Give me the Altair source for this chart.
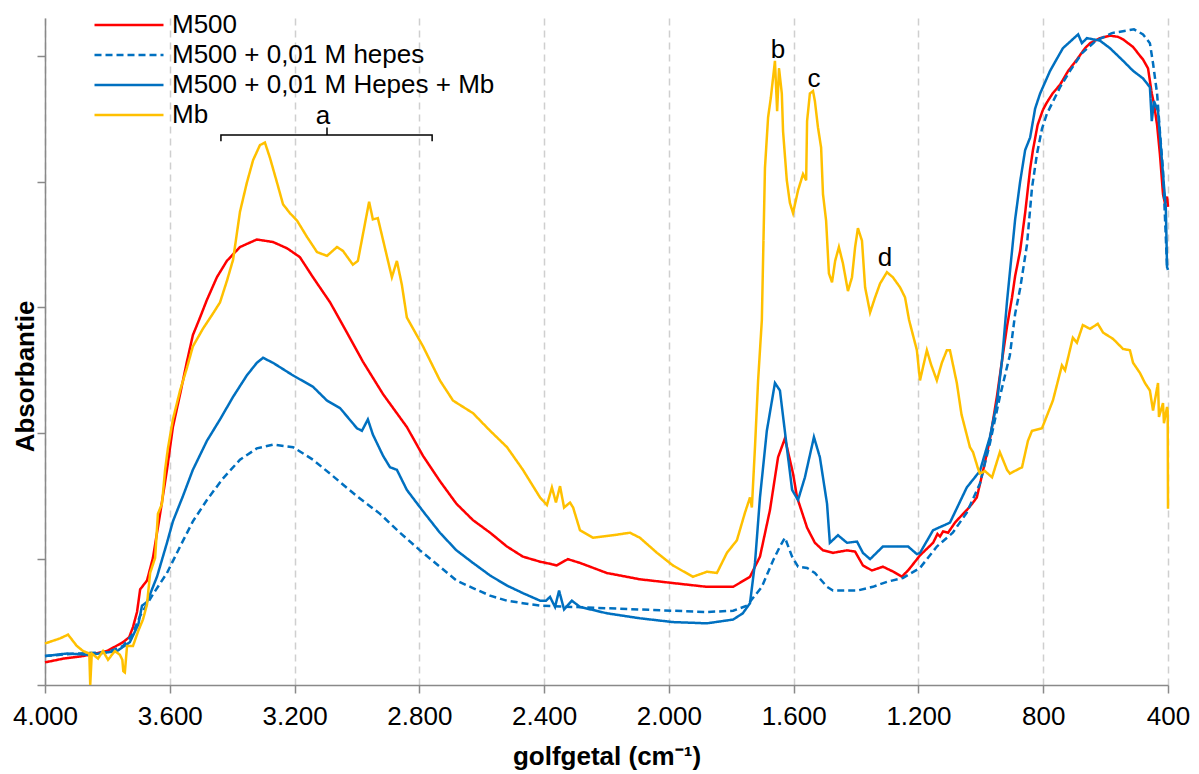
import altair as alt
import pandas as pd

# ---------------- data ----------------
SERIES = ["M500", "M500 + 0,01 M hepes", "M500 + 0,01 M Hepes + Mb", "Mb"]
COLORS = ["#FF0000", "#0070C0", "#0070C0", "#FFC000"]
DASHES = [[1, 0], [7, 4], [1, 0], [1, 0]]

m500_w = [4000, 3940, 3878, 3801, 3750, 3730, 3718, 3705, 3695, 3673, 3654, 3631, 3609, 3590,
          3567, 3545, 3526, 3503, 3481, 3449, 3417, 3375, 3321, 3269, 3224, 3183, 3141, 3086,
          3032, 2981, 2916, 2840, 2788, 2734, 2681, 2628, 2573, 2519, 2468, 2413, 2375, 2360,
          2324, 2285, 2199, 2093, 1987, 1878, 1794, 1740, 1708, 1676, 1650, 1628, 1602,
          1589, 1557, 1532, 1506, 1474, 1429, 1403, 1378, 1349, 1314, 1280, 1253, 1230, 1195,
          1153, 1139, 1131, 1121, 1105, 1083, 1057, 1045, 1025, 1013, 993, 971,
          961, 948, 932, 916, 900, 890, 874, 858, 842, 833, 818, 801, 788, 770, 746, 720,
          692, 666, 650, 618, 586, 560, 544, 512, 490, 480, 464, 458, 452, 445, 435, 426, 416,
          410, 403, 400]
m500_a = [0.18, 0.21, 0.23, 0.27, 0.34, 0.38, 0.46, 0.58, 0.76, 0.83, 1.01, 1.36, 1.71, 2.05,
          2.31, 2.57, 2.78, 2.92, 3.06, 3.24, 3.37, 3.48, 3.54, 3.52, 3.47, 3.40, 3.24, 3.04,
          2.80, 2.57, 2.31, 2.05, 1.82, 1.62, 1.44, 1.31, 1.21, 1.10, 1.02, 0.98, 0.96, 0.95,
          1.00, 0.97, 0.89, 0.84, 0.81, 0.78, 0.78, 0.86, 1.02, 1.39, 1.81, 1.96, 1.68,
          1.49, 1.25, 1.13, 1.07, 1.05, 1.07, 1.06, 0.95, 0.91, 0.94, 0.90, 0.86, 0.92, 1.03,
          1.13, 1.20, 1.18, 1.22, 1.21, 1.29, 1.36, 1.39, 1.45, 1.49, 1.70, 1.95,
          2.10, 2.30, 2.58, 2.85, 3.08, 3.25, 3.45, 3.75, 4.10, 4.25, 4.45, 4.57, 4.63,
          4.70, 4.77, 4.88, 4.97, 5.06, 5.10, 5.14, 5.16, 5.15, 5.13, 5.07, 5.00, 4.97, 4.90,
          4.80, 4.70, 4.62, 4.45, 4.22, 3.90, 3.83, 3.88, 3.80]

hepes_w = [4000, 3900, 3800, 3750, 3720, 3695, 3654, 3609, 3567, 3526, 3481, 3430, 3375, 3321,
           3269, 3205, 3141, 3077, 3000, 2926, 2862, 2798, 2734, 2681, 2628, 2573, 2519, 2468,
           2413, 2307, 2199, 2093, 1987, 1878, 1794, 1750, 1702, 1666, 1644, 1628, 1605, 1586,
           1557, 1532, 1493, 1474, 1397, 1346, 1301, 1250, 1195, 1141, 1090, 1045, 1003,
           971, 939, 907, 890, 874, 852, 836, 820, 804, 788, 746, 714, 676, 631, 580,
           509, 480, 458, 448, 435, 426, 416, 403, 400]
hepes_a = [0.23, 0.25, 0.26, 0.31, 0.40, 0.55, 0.72, 0.89, 1.10, 1.30, 1.47, 1.64, 1.79, 1.88,
           1.91, 1.89, 1.79, 1.66, 1.50, 1.36, 1.21, 1.07, 0.94, 0.83, 0.77, 0.71, 0.67, 0.65,
           0.63, 0.62, 0.61, 0.60, 0.59, 0.58, 0.59, 0.63, 0.78, 0.99, 1.10, 1.17, 1.02, 0.94,
           0.93, 0.89, 0.78, 0.75, 0.75, 0.78, 0.82, 0.85, 0.93, 1.10, 1.21, 1.37, 1.60,
           1.92, 2.29, 2.62, 2.95, 3.15, 3.50, 3.95, 4.22, 4.42, 4.54, 4.75, 4.88,
           5.02, 5.12, 5.18, 5.21, 5.17, 5.10, 4.94, 4.70, 4.40, 4.09, 3.32, 3.30]

hepesmb_w = [4000, 3930, 3856, 3769, 3728, 3701, 3689, 3673, 3641, 3609, 3590, 3558, 3526, 3481,
             3439, 3397, 3353, 3321, 3301, 3269, 3205, 3141, 3096, 3054, 3000, 2984, 2965, 2949,
             2916, 2894, 2872, 2840, 2788, 2734, 2681, 2628, 2573, 2519, 2468, 2413, 2394, 2381,
             2365, 2352, 2336, 2311, 2285, 2199, 2093, 1987, 1878, 1794, 1763, 1740, 1724, 1708,
             1686, 1660, 1644, 1622, 1605, 1586, 1564, 1535, 1516, 1493, 1484, 1458, 1429, 1397,
             1378, 1355, 1314, 1259, 1233, 1205, 1195, 1153, 1099, 1045, 1003, 971, 948, 932,
             916, 900, 890, 874, 858, 842, 826, 810, 778, 737, 688, 676, 660, 618, 586, 544,
             512, 480, 458, 452, 445, 432, 416, 407, 403, 400]
hepesmb_a = [0.23, 0.25, 0.24, 0.27, 0.34, 0.48, 0.63, 0.66, 0.86, 1.13, 1.30, 1.50, 1.71, 1.94,
             2.11, 2.29, 2.46, 2.56, 2.60, 2.56, 2.46, 2.37, 2.26, 2.20, 2.04, 2.02, 2.11, 1.99,
             1.82, 1.73, 1.71, 1.55, 1.38, 1.21, 1.07, 0.97, 0.87, 0.79, 0.73, 0.67, 0.67, 0.70,
             0.62, 0.75, 0.60, 0.67, 0.62, 0.57, 0.53, 0.50, 0.49, 0.52, 0.57, 0.65, 0.97, 1.49,
             2.02, 2.40, 2.34, 1.89, 1.55, 1.47, 1.65, 1.97, 1.81, 1.44, 1.13, 1.19, 1.13, 1.14,
             1.05, 1.00, 1.10, 1.10, 1.10, 1.04, 1.05, 1.23, 1.29, 1.57, 1.70, 1.97, 2.25, 2.58,
             3.05, 3.45, 3.70, 4.00, 4.25, 4.35, 4.58, 4.70, 4.88, 5.06, 5.17, 5.10, 5.14,
             5.12, 5.06, 4.96, 4.88, 4.82, 4.75, 4.48, 4.64, 4.56, 4.06, 3.79, 3.32, 3.30]

mb_w = [4000, 3952, 3926, 3898, 3878, 3858, 3855, 3850, 3830, 3814, 3798, 3776, 3760, 3752, 3749,
        3744, 3737, 3718, 3701, 3686, 3673, 3663, 3647, 3638, 3625, 3615, 3606, 3590, 3567, 3545,
        3526, 3494, 3462, 3439, 3417, 3397, 3375, 3353, 3333, 3311, 3295, 3279, 3256, 3237, 3215,
        3192, 3160, 3128, 3096, 3064, 3045, 3013, 2997, 2974, 2961, 2949, 2933, 2910, 2888, 2872,
        2856, 2840, 2788, 2734, 2692, 2628, 2573, 2519, 2468, 2413, 2391, 2375, 2362, 2349, 2336,
        2317, 2307, 2285, 2243, 2179, 2125, 2093, 2038, 1987, 1923, 1878, 1846, 1814, 1782, 1756,
        1740, 1734, 1724, 1714, 1702, 1692, 1682, 1673, 1660, 1653, 1647, 1638, 1634, 1622, 1612,
        1602, 1586, 1570, 1560, 1557, 1548, 1538, 1532, 1522, 1512, 1506, 1496, 1487, 1477, 1467,
        1455, 1442, 1426, 1413, 1403, 1394, 1381, 1371, 1355, 1339, 1323, 1301, 1282, 1259, 1243,
        1230, 1205, 1195, 1173, 1160, 1141, 1125, 1109, 1099, 1077, 1062, 1035, 1025, 1009, 1003,
        987, 964, 939, 916, 907, 884, 868, 849, 836, 804, 769, 740, 730, 705, 692, 673, 650, 625,
        608, 576, 544, 522, 512, 490, 474, 458, 448, 432, 429, 416, 413, 403, 401, 400]
mb_a = [0.33, 0.37, 0.40, 0.31, 0.27, 0.25, 0.00, 0.25, 0.21, 0.27, 0.20, 0.27, 0.24, 0.20, 0.11,
        0.10, 0.31, 0.31, 0.43, 0.52, 0.64, 0.89, 1.01, 1.36, 1.44, 1.71, 1.88, 2.11, 2.34, 2.52,
        2.69, 2.83, 2.95, 3.04, 3.21, 3.38, 3.76, 3.99, 4.17, 4.29, 4.31, 4.19, 3.99, 3.82, 3.75,
        3.69, 3.56, 3.44, 3.41, 3.48, 3.45, 3.34, 3.37, 3.67, 3.84, 3.70, 3.71, 3.47, 3.24, 3.37,
        3.18, 2.92, 2.69, 2.42, 2.26, 2.16, 2.02, 1.89, 1.71, 1.49, 1.43, 1.57, 1.45, 1.58, 1.41,
        1.45, 1.41, 1.23, 1.17, 1.19, 1.21, 1.17, 1.05, 0.95, 0.86, 0.90, 0.89, 1.05, 1.15, 1.37,
        1.49, 1.41, 1.89, 2.42, 2.90, 4.11, 4.51, 4.67, 4.96, 4.56, 4.90, 4.70, 4.40, 4.01, 3.83,
        3.75, 3.93, 4.06, 4.01, 4.48, 4.70, 4.72, 4.64, 4.43, 4.27, 3.90, 3.69, 3.27, 3.20, 3.37,
        3.48, 3.35, 3.13, 3.24, 3.48, 3.63, 3.53, 3.16, 2.96, 3.08, 3.19, 3.28, 3.24, 3.16, 3.08,
        2.90, 2.66, 2.42, 2.66, 2.55, 2.42, 2.56, 2.66, 2.66, 2.40, 2.15, 1.89, 1.85, 1.72, 1.68,
        1.70, 1.65, 1.85, 1.71, 1.68, 1.71, 1.73, 1.94, 2.02, 2.04, 2.26, 2.54, 2.50, 2.76, 2.72,
        2.86, 2.83, 2.87, 2.80, 2.75, 2.67, 2.66, 2.56, 2.48, 2.40, 2.34, 2.18, 2.40, 2.13, 2.24,
        2.08, 2.21, 2.18, 1.40]

x_ticks = [4000, 3600, 3200, 2800, 2400, 2000, 1600, 1200, 800, 400]
y_ticks = [0, 1, 2, 3, 4, 5]

ann_text = ["a", "b", "c", "d"]
ann_w = [3109, 1650, 1535, 1307]
ann_a = [4.46, 4.98, 4.75, 3.33]

bracket_w = [3436, 3436, 2759, 2759]
bracket_a = [4.32, 4.37, 4.37, 4.32]
bracket_mid_w = [3096]
bracket_mid_a = [4.37]
bracket_mid_a2 = [4.43]

# ---------------- build tables ----------------
rows = []
for name, ws, As in zip(SERIES, [m500_w, hepes_w, hepesmb_w, mb_w], [m500_a, hepes_a, hepesmb_a, mb_a]):
    for w, a in zip(ws, As):
        rows.append({"series": name, "w": w, "a": a})
df = pd.DataFrame(rows)

ann_df = pd.DataFrame({"t": ann_text, "w": ann_w, "a": ann_a})
br_df = pd.DataFrame({"w": bracket_w, "a": bracket_a, "i": list(range(len(bracket_w)))})
brm_df = pd.DataFrame({"w": bracket_mid_w, "a": bracket_mid_a, "a2": bracket_mid_a2})

FONT = "Liberation Sans"
FS = 26
AX = "#898989"

x_enc = alt.X(
    "w:Q",
    scale=alt.Scale(domain=[400, 4000], reverse=True, nice=False, zero=False),
    axis=alt.Axis(
        values=x_ticks,
        labelExpr="replace(format(datum.value, ','), ',', '.')",
        labelFlush=False,
        labelFont=FONT, labelFontSize=FS, labelColor="black", labelPadding=10,
        grid=True, gridColor="#CFCFCF", gridDash=[7, 5], gridWidth=1.5,
        domainColor=AX, domainWidth=1.5, tickColor=AX, tickWidth=1.5, tickSize=8,
        title="golfgetal (cm⁻¹)", titleFont=FONT, titleFontSize=FS, titleFontWeight="bold",
        titleColor="black", titleY=79, titleBaseline="alphabetic",
    ),
)
y_enc = alt.Y(
    "a:Q",
    scale=alt.Scale(domain=[0, 5.3], nice=False),
    axis=alt.Axis(
        values=y_ticks, labels=False, grid=False,
        domainColor=AX, domainWidth=1.5, tickColor=AX, tickWidth=1.5, tickSize=8,
        title="Absorbantie", titleFont=FONT, titleFontSize=FS, titleFontWeight="bold",
        titleColor="black", titleAngle=270, titleX=-12, titleY=358,
        titleBaseline="alphabetic", titleAlign="center",
    ),
)

legend_kw = dict(
    title=None, orient="none", legendX=71, legendY=-6,
    symbolType="M-3,0H3", symbolSize=529, symbolStrokeWidth=2.5,
    labelFont=FONT, labelFontSize=FS, labelColor="black", labelOffset=30,
    rowPadding=4, padding=0, labelLimit=600,
)

lines = alt.Chart(df).mark_line(strokeWidth=2.5).encode(
    x=x_enc,
    y=y_enc,
    color=alt.Color("series:N", scale=alt.Scale(domain=SERIES, range=COLORS),
                    legend=alt.Legend(**legend_kw)),
    strokeDash=alt.StrokeDash("series:N", scale=alt.Scale(domain=SERIES, range=DASHES),
                              legend=alt.Legend(**legend_kw)),
)

bracket = alt.Chart(br_df).mark_line(color="black", strokeWidth=1.5).encode(
    x="w:Q", y="a:Q", order="i:Q"
)
bracket_mid = alt.Chart(brm_df).mark_rule(color="black", strokeWidth=1.5).encode(
    x="w:Q", y="a:Q", y2="a2:Q"
)
labels = alt.Chart(ann_df).mark_text(
    font=FONT, fontSize=FS, color="black", align="center", baseline="alphabetic"
).encode(x="w:Q", y="a:Q", text="t:N")

chart = alt.layer(lines, bracket, bracket_mid, labels).properties(
    width=1123, height=667,
    padding={"left": 45, "top": 18, "right": 31, "bottom": 89},
    autosize=alt.AutoSizeParams(type="none"),
).configure_view(stroke=None)

chart.save("out.html", embed_options={"renderer": "svg", "actions": False})
